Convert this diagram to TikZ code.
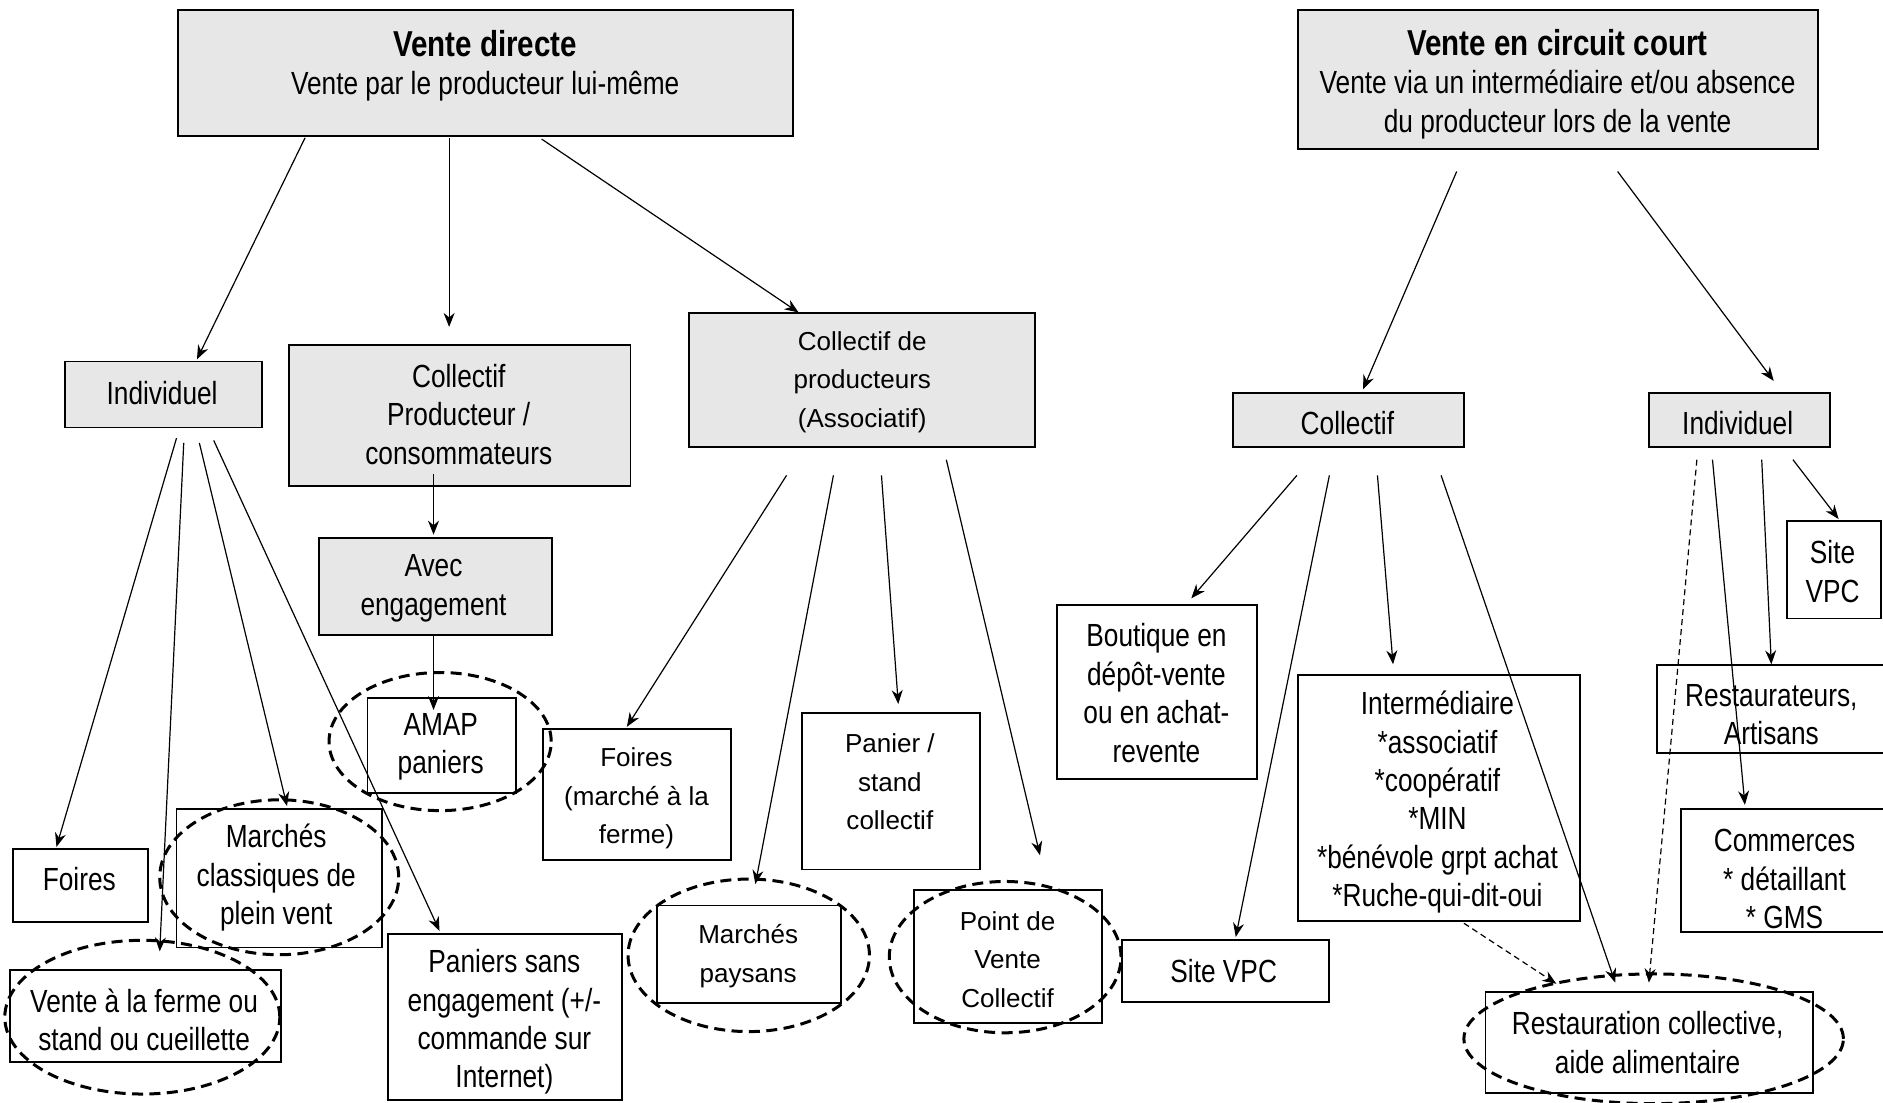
\documentclass[tikz,border=0pt]{standalone}
\usepackage{fontspec}
\setmainfont{Liberation Sans}
\newfontfamily\nfont[FakeStretch=0.82]{Liberation Sans}
\newfontfamily\rfont{Liberation Sans}
\usetikzlibrary{shapes.geometric,arrows.meta,calc}
\definecolor{boxgray}{HTML}{E7E7E7}
\begin{document}
\begin{tikzpicture}[x=0.6pt,y=-0.6pt,
  sz/.style 2 args={minimum width=#1*0.6pt, minimum height=#2*0.6pt},
  gbox/.style={draw, line width=0.95pt, fill=boxgray, inner sep=0pt},
  wbox/.style={draw, line width=0.95pt, fill=white, inner sep=0pt},
  ntxt/.style={align=center, inner sep=0pt, font=\nfont\fontsize{16}{19.2}\selectfont},
  rtxt/.style={align=center, inner sep=0pt, font=\rfont\fontsize{13}{19.2}\selectfont},
  ell/.style={ellipse, draw, dash pattern=on 5.5pt off 3.2pt, line width=1.5pt, inner sep=0pt},
  arr/.style={-{Stealth[length=7pt,width=5.5pt]}, line width=0.6pt},
  darr/.style={arr, dash pattern=on 3pt off 2pt}]
\useasboundingbox (0,0) rectangle (1568,918);

% ---------- boxes ----------
\node[gbox, sz={512}{105}] (vd) at (404,60.5) {};
\node[gbox, sz={433}{116}] (vcc) at (1297.5,66) {};
\node[gbox, sz={164}{55}] (indL) at (136,328.5) {};
\node[gbox, sz={284}{118}] (cpc) at (383,346) {};
\node[gbox, sz={288}{111}] (cdp) at (718,316.5) {};
\node[gbox, sz={194}{81}] (avec) at (363,488.5) {};
\node[wbox, sz={124}{79}] (amap) at (368,620.5) {};
\node[wbox, sz={112}{61}] (foiresL) at (67,737.5) {};
\node[wbox, sz={171}{115}] (mcl) at (232.5,731.5) {};
\node[wbox, sz={226}{76}] (vfe) at (121,846) {};
\node[wbox, sz={195}{138}] (pse) at (420.5,847) {};
\node[wbox, sz={157}{109}] (foiresM) at (530.5,661.5) {};
\node[wbox, sz={153}{81}] (mpay) at (623.5,794.5) {};
\node[wbox, sz={148}{130}] (pstand) at (742,659) {};
\node[wbox, sz={157}{111}] (pvc) at (839.5,796.5) {};
\node[gbox, sz={192}{45}] (colR) at (1123,349.5) {};
\node[gbox, sz={151}{45}] (indR) at (1448.5,349.5) {};
\node[wbox, sz={167}{145}] (bout) at (963.5,576.5) {};
\node[wbox, sz={173}{51}] (svpcC) at (1020.5,808.5) {};
\node[wbox, sz={235}{205}] (inter) at (1198.5,664.5) {};
\node[wbox, sz={273}{84}] (resto) at (1373.5,868) {};
\node[wbox, sz={78}{81}] (svpcR) at (1527,474.5) {};
\node[wbox, sz={192}{73}] (restA) at (1476,590.5) {};
\node[wbox, sz={172}{102}] (comm) at (1486,725) {};

% ---------- texts ----------
\node[ntxt] (vdT) at (404,55) {{\fontsize{18}{21.6}\selectfont\bfseries Vente directe}\\[0pt]Vente par le producteur lui-même};
\node[ntxt] (vccT) at (1297,70) {{\fontsize{18}{21.6}\selectfont\bfseries Vente en circuit court}\\[0pt]Vente via un intermédiaire et/ou absence\\du producteur lors de la vente};
\node[ntxt] (indLT) at (135,327) {Individuel};
\node[ntxt] (cpcT) at (382,345) {Collectif\\Producteur /\\consommateurs};
\node[rtxt] (cdpT) at (718,318) {Collectif de\\producteurs\\(Associatif)};
\node[ntxt] (avecT) at (361,490) {Avec\\engagement};
\node[ntxt] (amapT) at (367,622) {AMAP\\paniers};
\node[ntxt] (foiresLT) at (66,732) {Foires};
\node[ntxt] (mclT) at (230,731) {Marchés\\classiques de\\plein vent};
\node[ntxt] (vfeT) at (120,849) {Vente à la ferme ou\\stand ou cueillette};
\node[ntxt] (pseT) at (420,851) {Paniers sans\\engagement (+/-\\commande sur\\Internet)};
\node[rtxt] (foiresMT) at (530,665) {Foires\\(marché à la\\ferme)};
\node[rtxt] (mpayT) at (623,796) {Marchés\\paysans};
\node[rtxt] (pstandT) at (741,651) {Panier /\\stand\\collectif};
\node[rtxt] (pvcT) at (839,799) {Point de\\Vente\\Collectif};
\node[ntxt] (colRT) at (1122,352) {Collectif};
\node[ntxt] (indRT) at (1447,352) {Individuel};
\node[ntxt] (boutT) at (963,577) {Boutique en\\dépôt-vente\\ou en achat-\\revente};
\node[ntxt] (svpcCT) at (1019,809) {Site VPC};
\node[ntxt] (interT) at (1197,668) {Intermédiaire\\*associatif\\*coopératif\\*MIN\\*bénévole grpt achat\\*Ruche-qui-dit-oui};
\node[ntxt] (restoT) at (1372,868) {Restauration collective,\\aide alimentaire};
\node[ntxt] (svpcRT) at (1526,476) {Site\\VPC};
\node[ntxt] (restAT) at (1475,595) {Restaurateurs,\\Artisans};
\node[ntxt] (commT) at (1486,732) {Commerces\\* détaillant\\* GMS};

% ---------- dashed ellipses ----------
\node[ell, sz={185}{115}] (amapE) at (366.5,617.5) {};
\node[ell, sz={199}{129}] (mclE) at (232.5,730.5) {};
\node[ell, sz={229}{128}] (vfeE) at (118.5,847) {};
\node[ell, sz={201}{127}] (mpayE) at (623.5,795.5) {};
\node[ell, sz={193}{126}] (pvcE) at (837,797) {};
\node[ell, sz={316}{108}] (restoE) at (1377,865) {};

% ---------- arrows ----------
\draw[arr] ($(vd.south)+(-150,1)$) -- ($(indL.north)+(28,-1)$);
\draw[arr] ($(vd.south)+(-30,1)$) -- ($(cpc.north)+(-9,-14)$);
\draw[arr] ($(vd.south)+(47,2)$) -- ($(cdp.north)+(-53,0)$);

\draw[arr] ($(indL.south)+(11,8)$) -- ($(foiresL.north)+(-20,-1)$);
\draw[arr] ($(indL.south)+(17,12)$) -- ($(vfe.north)+(12,-15)$);
\draw[arr] ($(indL.south)+(30,12)$) -- ($(mcl.north)+(6.5,-2)$);
\draw[arr] ($(indL.south)+(42,10)$) -- ($(pse.north)+(-54.5,-2)$);

\draw[arr] ($(cpc.south)+(-22,-11)$) -- ($(avec.north)+(-2,-2)$);
\draw[arr] ($(avec.south)+(-2,0)$) -- ($(amap.north)+(-7,11)$);

\draw[arr] ($(cdp.south)+(-63,23)$) -- ($(foiresM.north)+(-8.5,-1)$);
\draw[arr] ($(cdp.south)+(-24,23)$) -- ($(mpay.north)+(5.5,-17)$);
\draw[arr] ($(cdp.south)+(16,23)$) -- ($(pstand.north)+(6,-7)$);
\draw[arr] ($(cdp.south)+(70,10)$) -- ($(pvc.north)+(26.5,-28)$);

\draw[arr] ($(vcc.south)+(-84.5,18)$) -- ($(colR.north)+(12,-2)$);
\draw[arr] ($(vcc.south)+(49.5,18)$) -- ($(indR.north)+(28.5,-9)$);

\draw[arr] ($(colR.south)+(-43,23)$) -- ($(bout.north)+(28.5,-5)$);
\draw[arr] ($(colR.south)+(-16,23)$) -- ($(svpcC.north)+(8.5,-2)$);
\draw[arr] ($(colR.south)+(24,23)$) -- ($(inter.north)+(-38.5,-8)$);
\draw[arr] ($(colR.south)+(77,23)$) -- ($(resto.north)+(-28.5,-7)$);
\draw[darr] ($(inter.south)+(20.5,1)$) -- ($(resto.north)+(-77.5,-6)$);

\draw[darr] ($(indR.south)+(-35.5,10)$) -- ($(resto.north)+(-0.5,-7)$);
\draw[arr] ($(indR.south)+(-22.5,10)$) -- ($(comm.north)+(-33,-3)$);
\draw[arr] ($(indR.south)+(18.5,10)$) -- ($(restA.north)+(-1,0)$);
\draw[arr] ($(indR.south)+(44.5,10)$) -- ($(svpcR.north)+(4,-1)$);
\end{tikzpicture}
\end{document}
